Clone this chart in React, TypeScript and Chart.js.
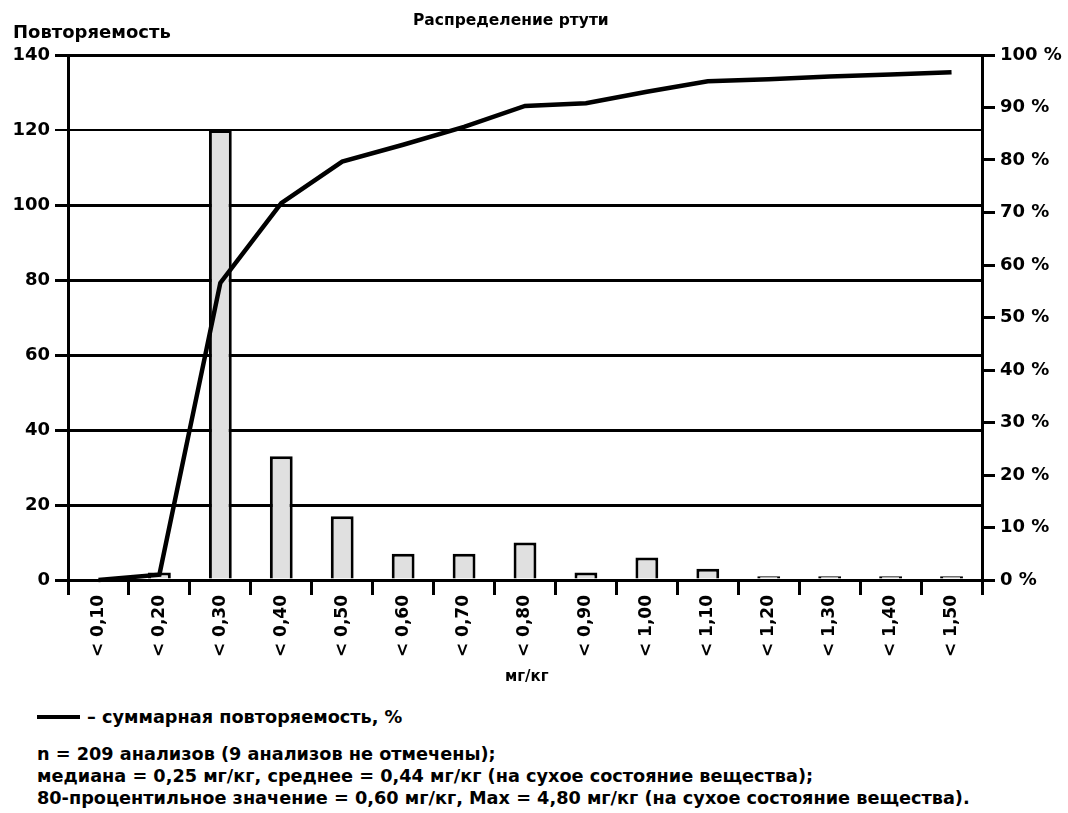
import React, { useEffect, useRef } from "react";
import { Chart, registerables } from "chart.js";

Chart.register(...registerables);

const categories = [
  "< 0,10", "< 0,20", "< 0,30", "< 0,40", "< 0,50", "< 0,60", "< 0,70", "< 0,80",
  "< 0,90", "< 1,00", "< 1,10", "< 1,20", "< 1,30", "< 1,40", "< 1,50",
];
const counts = [0, 2, 120, 33, 17, 7, 7, 10, 2, 6, 3, 1, 1, 1, 1];
const cumulativePercent = [0, 1, 56.6, 71.8, 79.7, 82.9, 86.3, 90.3, 90.8, 93.0, 95.0, 95.4, 95.9, 96.3, 96.7];

const countAxisMax = 140;
const countAxisStep = 20;
const percentAxisMax = 100;
const percentAxisStep = 10;

const chartTitle = "Распределение ртути";
const leftAxisTitle = "Повторяемость";
const xAxisTitle = "мг/кг";
const legendText = "– суммарная повторяемость, %";
const notes = [
  "n = 209 анализов (9 анализов не отмечены);",
  "медиана = 0,25 мг/кг, среднее = 0,44 мг/кг (на сухое состояние вещества);",
  "80-процентильное значение = 0,60 мг/кг, Max = 4,80 мг/кг (на сухое состояние вещества).",
];

const FONT = "'DejaVu Sans', 'Liberation Sans', Arial, sans-serif";

export default function App() {
  const canvasRef = useRef<HTMLCanvasElement | null>(null);

  useEffect(() => {
    document.body.style.margin = "0";
    const canvas = canvasRef.current;
    if (!canvas) return;
    const tickFont = { family: FONT, size: 18, weight: "bold" as const };
    const chart = new Chart(canvas, {
      type: "bar",
      data: {
        labels: categories,
        datasets: [
          {
            type: "line",
            label: "суммарная повторяемость, %",
            data: cumulativePercent,
            yAxisID: "y1",
            borderColor: "#000",
            borderWidth: 4.5,
            pointRadius: 0,
            tension: 0,
            fill: false,
            order: 0,
            clip: false as any,
          },
          {
            type: "bar",
            label: "Повторяемость",
            data: counts,
            yAxisID: "y",
            backgroundColor: "#e0e0e0",
            borderColor: "#000",
            borderWidth: 3,
            barPercentage: 0.375,
            categoryPercentage: 1,
            order: 1,
          },
        ],
      },
      options: {
        responsive: false,
        animation: false,
        devicePixelRatio: 1,
        layout: { padding: { top: 55, left: 0, right: 0, bottom: 0 } },
        plugins: {
          legend: { display: false },
          tooltip: { enabled: false },
          title: { display: false },
        },
        scales: {
          x: {
            offset: true,
            grid: {
              display: true,
              offset: true,
              drawOnChartArea: false,
              drawTicks: true,
              tickLength: 15,
              color: "#000",
              lineWidth: 3,
            },
            border: { display: true, color: "#000", width: 3 },
            ticks: {
              color: "#000",
              font: { family: FONT, size: 17, weight: "bold" },
              minRotation: 90,
              maxRotation: 90,
              autoSkip: false,
              padding: 0,
            },
            afterFit: (scale: any) => {
              scale.height = 120;
            },
          },
          y: {
            position: "left",
            min: 0,
            max: countAxisMax,
            grid: {
              color: "#000",
              lineWidth: (ctx: any) => (ctx.tick && ctx.tick.value === 120 ? 2 : 3),
              tickLength: 13,
              drawOnChartArea: true,
            },
            border: { display: true, color: "#000", width: 3 },
            ticks: {
              stepSize: countAxisStep,
              color: "#000",
              font: tickFont,
              padding: 5,
            },
            afterFit: (scale: any) => {
              scale.width = 68;
            },
          },
          y1: {
            position: "right",
            min: 0,
            max: percentAxisMax,
            grid: {
              color: "#000",
              lineWidth: 3,
              tickLength: 13,
              drawOnChartArea: false,
            },
            border: { display: true, color: "#000", width: 3 },
            ticks: {
              stepSize: percentAxisStep,
              color: "#000",
              font: tickFont,
              padding: 5,
              callback: (v: any) => `${v} %`,
            },
            afterFit: (scale: any) => {
              scale.width = 86;
            },
          },
        },
      },
    });
    return () => chart.destroy();
  }, []);

  const textBase: React.CSSProperties = {
    position: "absolute",
    fontFamily: FONT,
    fontWeight: "bold",
    color: "#000",
    whiteSpace: "nowrap",
    lineHeight: "20px",
  };

  return (
    <div style={{ position: "relative", width: 1068, height: 813, background: "#fff", overflow: "hidden" }}>
      <canvas ref={canvasRef} width={1068} height={700} style={{ position: "absolute", left: 0, top: 0, display: "block" }} />
      <div style={{ ...textBase, left: 413, top: 10, fontSize: 15.5 }}>{chartTitle}</div>
      <div style={{ ...textBase, left: 13, top: 22, fontSize: 18 }}>{leftAxisTitle}</div>
      <div style={{ ...textBase, left: 505, top: 666, fontSize: 15 }}>{xAxisTitle}</div>
      <div style={{ ...textBase, left: 37, top: 707, fontSize: 17.7, display: "flex", alignItems: "center" }}>
        <span style={{ display: "inline-block", width: 43, height: 4, background: "#000", marginRight: 7 }} />
        <span>{legendText}</span>
      </div>
      {notes.map((t, i) => (
        <div key={i} style={{ ...textBase, left: 37, top: 744 + i * 22, fontSize: 17.7 }}>{t}</div>
      ))}
    </div>
  );
}
